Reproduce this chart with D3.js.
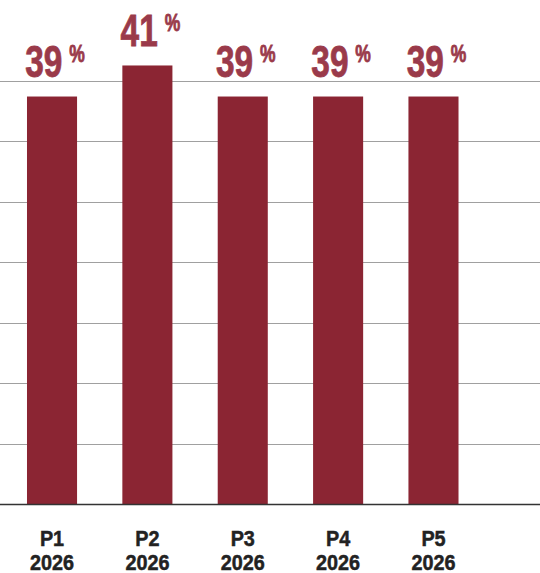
<!DOCTYPE html>
<html>
<head>
<meta charset="utf-8">
<script src="https://cdn.jsdelivr.net/npm/d3@7"></script>
<style>
  html, body { margin: 0; padding: 0; background: #fff; }
  svg { display: block; }
</style>
</head>
<body>
<svg id="chart" width="540" height="573"></svg>
<script>
// Share per period (%)
const periods = ["P1", "P2", "P3", "P4", "P5"];
const years = ["2026", "2026", "2026", "2026", "2026"];
const values = [39, 41, 39, 39, 39];

const W = 540, H = 573;
const svg = d3.select("#chart");
const FONT = "'Liberation Sans', Arial, sans-serif";

const x = d3.scaleBand()
  .domain(periods)
  .range([0, 485.5])
  .paddingInner(0.475)
  .paddingOuter(0.283);

const baseY = 504, topY = 81;
const y = d3.scaleLinear().domain([12.75, 40]).range([baseY, topY]);

// horizontal gridlines: 7 equal steps from baseline to top
const gridVals = d3.range(8).map(i => 12.75 + i * (40 - 12.75) / 7).slice(1);
svg.append("g").selectAll("line").data(gridVals).join("line")
  .attr("x1", 0).attr("x2", W)
  .attr("y1", d => Math.round(y(d)) + 0.5).attr("y2", d => Math.round(y(d)) + 0.5)
  .attr("stroke", "#a0a0a0").attr("stroke-width", 1);

// bars
svg.append("g").selectAll("rect").data(values).join("rect")
  .attr("x", (d, i) => x(periods[i]))
  .attr("width", x.bandwidth())
  .attr("y", d => y(d))
  .attr("height", d => baseY - y(d))
  .attr("fill", "#8b2533");

// baseline
svg.append("line")
  .attr("x1", 0).attr("x2", W).attr("y1", baseY + 0.5).attr("y2", baseY + 0.5)
  .attr("stroke", "#333").attr("stroke-width", 1.5);

// value labels (condensed bold)
const lab = svg.append("g").selectAll("g").data(values).join("g")
  .attr("transform", (d, i) =>
    `translate(${x(periods[i]) + x.bandwidth() / 2 + 3},${y(d) - 19.5}) scale(0.76,1)`)
  .append("text")
  .attr("text-anchor", "middle")
  .attr("fill", "#9a3a4a")
  .attr("stroke", "#9a3a4a")
  .attr("stroke-width", 0.8)
  .style("font-family", FONT)
  .style("font-weight", "bold");
lab.append("tspan").attr("font-size", 44).text(d => d);
lab.append("tspan").attr("font-size", 23).attr("dx", 9).attr("dy", -15).text("%");

// category labels
const cat = svg.append("g").selectAll("g").data(periods).join("g")
  .attr("transform", d => `translate(${x(d) + x.bandwidth() / 2},0) scale(0.9,1)`)
  .append("text")
  .attr("text-anchor", "middle")
  .attr("fill", "#222")
  .attr("stroke", "#222")
  .attr("stroke-width", 0.5)
  .style("font-family", FONT)
  .style("font-weight", "bold")
  .attr("font-size", 22);
cat.append("tspan").attr("x", 0).attr("y", 546).text(d => d);
cat.append("tspan").attr("x", 0).attr("y", 570).text((d, i) => years[i]);
</script>
</body>
</html>
